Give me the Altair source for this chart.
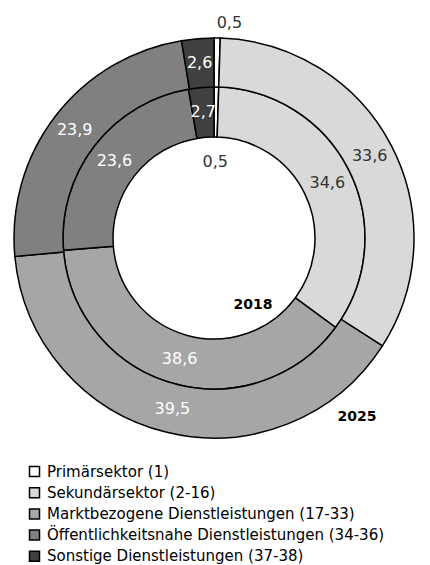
import altair as alt
import pandas as pd

categories = [
    "Primärsektor (1)",
    "Sekundärsektor (2-16)",
    "Marktbezogene Dienstleistungen (17-33)",
    "Öffentlichkeitsnahe Dienstleistungen (34-36)",
    "Sonstige Dienstleistungen (37-38)",
]
values_2018 = [0.5, 34.6, 38.6, 23.6, 2.7]
values_2025 = [0.5, 33.6, 39.5, 23.9, 2.6]
years = ["2018", "2025"]
colors = ["#ffffff", "#d9d9d9", "#a6a6a6", "#808080", "#404040"]

rows = []
for year, vals in zip(years, [values_2018, values_2025]):
    for i, (c, v) in enumerate(zip(categories, vals)):
        rows.append({"year": year, "category": c, "order": i, "value": v,
                     "label": f"{v:.1f}".replace(".", ",")})
df = pd.DataFrame(rows)

FONT = "DejaVu Sans"
CX, CY = 206, 230
R0, R1, R2 = 101, 151, 200

base = (
    alt.Chart(df)
    .transform_stack(stack="value", groupby=["year"], as_=["v0", "v1"],
                     sort=[alt.SortField("order")], offset="normalize")
    .transform_calculate(mid="(datum.v0 + datum.v1) / 2")
)

theta_scale = alt.Scale(domain=[0, 1], range=[0, 6.283185307179586])

color_enc = alt.Color(
    "category:N",
    scale=alt.Scale(domain=categories, range=colors),
    legend=alt.Legend(
        title=None, orient="none", legendX=19, legendY=456,
        symbolType="square", symbolSize=100, symbolStrokeColor="black",
        symbolStrokeWidth=1.5, symbolOpacity=1, labelFont=FONT,
        labelFontSize=15, labelColor="black", rowPadding=4.2,
        labelOffset=5, padding=0, labelLimit=500,
    ),
)

def ring(year, r_in, r_out):
    return base.transform_filter(alt.datum.year == year).mark_arc(
        radius=r_out, radius2=r_in, stroke="black", strokeWidth=1.5
    ).encode(
        theta=alt.Theta("v0:Q", scale=theta_scale),
        theta2="v1:Q",
        color=color_enc,
        x=alt.value(CX), y=alt.value(CY),
    )

def labels(year, radius, cond, dx=0):
    return base.transform_filter(alt.datum.year == year).transform_filter(cond).mark_text(
        radius=radius, font=FONT, fontSize=16, dx=dx
    ).encode(
        theta=alt.Theta("mid:Q", scale=theta_scale),
        text="label:N",
        color=alt.condition("datum.order < 2", alt.value("#333333"), alt.value("white")),
        x=alt.value(CX), y=alt.value(CY),
    )

inner = ring("2018", R0, R1)
outer = ring("2025", R1, R2)
lab_in = labels("2018", 126, "datum.order > 0")
lab_out = labels("2025", 176, "datum.order > 0")
lab_in0 = labels("2018", 76, "datum.order == 0")
lab_out0 = labels("2025", 215, "datum.order == 0", dx=12)

year_df = pd.DataFrame({"year": years})
yr18 = alt.Chart(year_df).transform_filter(alt.datum.year == "2018").mark_text(
    font=FONT, fontSize=14, fontWeight="bold", color="black"
).encode(text="year:N", x=alt.value(245), y=alt.value(297))
yr25 = alt.Chart(year_df).transform_filter(alt.datum.year == "2025").mark_text(
    font=FONT, fontSize=14, fontWeight="bold", color="black"
).encode(text="year:N", x=alt.value(349), y=alt.value(409))

chart = alt.layer(inner, outer, lab_in, lab_out, lab_in0, lab_out0, yr18, yr25).properties(
    width=414, height=557, autosize=alt.AutoSizeParams(type="none"), padding=0
).configure_view(stroke=None)

chart.save("out.html", embed_options={"renderer": "svg", "actions": False})
